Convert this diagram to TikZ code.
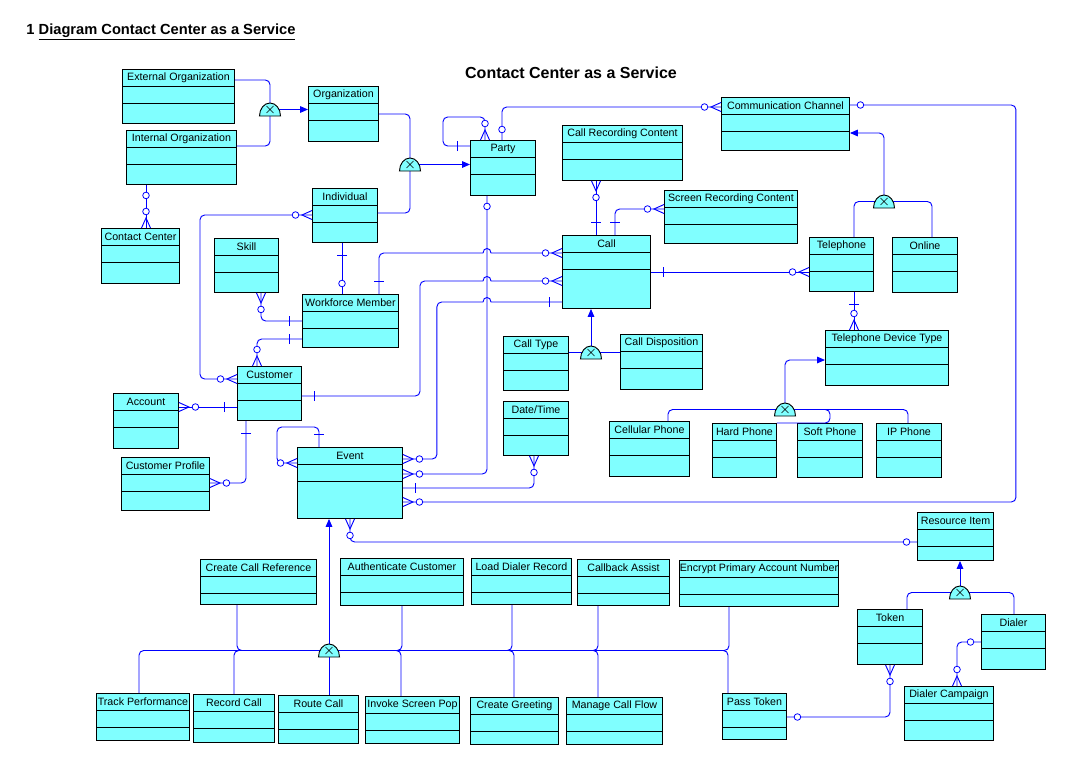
\documentclass[tikz,border=0pt]{standalone}
\usepackage{fontspec}
\setmainfont{Liberation Sans}
\usetikzlibrary{calc,arrows.meta}
\definecolor{boxcyan}{RGB}{128,255,255}
\definecolor{linkblue}{RGB}{0,0,255}
\tikzstyle{ent} = [rectangle, draw, fill=boxcyan, anchor=north west, inner sep=0pt]
\tikzstyle{enttxt} = [font=\fontsize{8}{9}\selectfont, inner sep=0pt]
\tikzstyle{gatebox} = [inner sep=0pt, outer sep=0pt, minimum width=15.75pt, minimum height=9.75pt]
\tikzstyle{link} = [draw=linkblue, rounded corners=3.5pt]
\tikzstyle{isa} = [link, -{Triangle[length=6pt,width=5pt]}]
% entity box: name, left, top, width, height, label
\newcommand{\ent}[6]{%
  \node[ent, minimum width=#4*0.75pt, minimum height=#5*0.75pt] (#1) at (#2,#3) {};
  \node[enttxt] (#1-txt) at ($(#1.north)+(0,8.7)$) {#6};
  \draw (#2,#3+17) -- ++(#4,0) (#2,#3+34) -- ++(#4,0);}
% exclusive subtype symbol
\newcommand{\dome}[1]{%
  \draw[fill=boxcyan] (#1.south west) .. controls +(0,-7) and +(-6,0) .. (#1.north)
    .. controls +(6,0) and +(0,-7) .. (#1.south east) -- cycle;
  \draw[line width=0.5pt] ($(#1.center)+(-3.5,-3.5)$) -- ++(7,7) ++(-7,0) -- ++(7,-7);}
% relationship ends: point on box, outward angle
\newcommand{\crowend}[2]{%
  \begin{scope}[shift={(#1)},rotate=#2]
    \draw[linkblue] (0,-4.5) -- (10,0) -- (0,4.5);
    \draw[linkblue,fill=white,line width=0.6pt] (16.5,0) circle[radius=3.3];
  \end{scope}}
\newcommand{\tickend}[2]{%
  \begin{scope}[shift={(#1)},rotate=#2]
    \draw[linkblue] (13,-5) -- (13,5);
  \end{scope}}
\newcommand{\ringend}[2]{%
  \begin{scope}[shift={(#1)},rotate=#2]
    \draw[linkblue,fill=white,line width=0.6pt] (10.5,0) circle[radius=3.3];
  \end{scope}}

\begin{document}
\begin{tikzpicture}[x=0.75pt,y=-0.75pt,line width=0.7pt]
  \useasboundingbox (0,0) rectangle (1087,771);

  \node[anchor=west, inner sep=0pt, font=\fontsize{11}{13}\selectfont\bfseries] (heading) at (26,32)
    {1 \underline{Diagram Contact Center as a Service}};
  \node[font=\fontsize{12}{14}\selectfont\bfseries] (title) at (571,73) {Contact Center as a Service};

  \ent{extorg}{122}{69}{112}{54}{External Organization}
  \ent{intorg}{126}{130}{110}{54}{Internal Organization}
  \ent{org}{308}{86}{70}{55}{Organization}
  \ent{cc}{101}{228}{78}{55}{Contact Center}
  \ent{indiv}{312}{188}{65}{54}{Individual}
  \ent{skill}{214}{238}{64}{54}{Skill}
  \ent{party}{470}{140}{65}{55}{Party}
  \ent{crc}{562}{125}{120}{55}{Call Recording Content}
  \ent{src}{664}{190}{133}{53}{Screen Recording Content}
  \ent{comm}{721}{97}{128}{53}{Communication Channel}
  \ent{call}{562}{235}{88}{73}{Call}
  \ent{tel}{809}{237}{64}{54}{Telephone}
  \ent{online}{892}{237}{65}{55}{Online}
  \ent{wfm}{302}{294}{96}{53}{Workforce Member}
  \ent{cust}{237}{366}{64}{54}{Customer}
  \ent{acct}{113}{393}{65}{55}{Account}
  \ent{cprof}{121}{457}{88}{53}{Customer Profile}
  \ent{event}{297}{447}{105}{71}{Event}
  \ent{ctype}{503}{336}{65}{54}{Call Type}
  \ent{cdisp}{620}{334}{82}{55}{Call Disposition}
  \ent{dt}{503}{401}{65}{54}{Date/Time}
  \ent{tdt}{825}{330}{123}{55}{Telephone Device Type}
  \ent{cell}{609}{421}{80}{55}{Cellular Phone}
  \ent{hard}{712}{423}{64}{54}{Hard Phone}
  \ent{soft}{797}{423}{65}{54}{Soft Phone}
  \ent{ip}{876}{423}{65}{54}{IP Phone}
  \ent{resitem}{917}{512}{76}{48}{Resource Item}
  \ent{ccref}{200}{559}{116}{45}{Create Call Reference}
  \ent{authc}{340}{558}{123}{47}{Authenticate Customer}
  \ent{ldr}{471}{558}{100}{46}{Load Dialer Record}
  \ent{cba}{577}{559}{92}{46}{Callback Assist}
  \ent{epan}{679}{560}{159}{46}{Encrypt Primary Account Number}
  \ent{token}{857}{609}{65}{55}{Token}
  \ent{dialer}{981}{614}{64}{55}{Dialer}
  \ent{dcamp}{904}{686}{89}{54}{Dialer Campaign}
  \ent{trackp}{96}{693}{93}{47}{Track Performance}
  \ent{reccall}{193}{694}{81}{48}{Record Call}
  \ent{route}{278}{695}{80}{48}{Route Call}
  \ent{isp}{365}{696}{94}{47}{Invoke Screen Pop}
  \ent{cgreet}{470}{697}{88}{47}{Create Greeting}
  \ent{mcf}{566}{697}{96}{47}{Manage Call Flow}
  \ent{ptoken}{722}{693}{64}{46}{Pass Token}

  \node[gatebox] (g1) at (270,109.5) {};
  \node[gatebox] (g2) at (410,164.5) {};
  \node[gatebox] (g3) at (884,201.5) {};
  \node[gatebox] (g4) at (591,352.5) {};
  \node[gatebox] (g5) at (785,409.5) {};
  \node[gatebox] (g6) at (329,650.5) {};
  \node[gatebox] (g7) at (960,592.5) {};

  % subtypes
  \draw[link] ($(extorg.north east)+(0,11)$) -| (g1.center);
  \draw[link] ($(intorg.north east)+(0,16)$) -| (g1.center);
  \draw[isa] (g1.center) -- (g1.center -| org.west);
  \draw[link] ($(org.north east)+(0,28)$) -| (g2.center);
  \draw[link] ($(indiv.north east)+(0,25)$) -| (g2.center);
  \draw[isa] (g2.center) -- (g2.center -| party.west);
  \draw[link] ($(tel.north west)+(45,0)$) |- (g3.center);
  \draw[link] ($(online.north west)+(40,0)$) |- (g3.center);
  \draw[isa] (g3.center) |- ($(comm.north east)+(0,36)$);
  \draw[link] (ctype.east |- g4.center) -- (g4.center);
  \draw[link] (g4.center) -- (g4.center -| cdisp.west);
  \draw[isa] (g4.center) -- (g4.center |- call.south);
  \draw[link] ($(cell.north west)+(59,0)$) |- (g5.center);
  \draw[link] ($(ip.north west)+(32,0)$) |- (g5.center);
  \draw[link] (hard.north east) -- ($(soft.north west)+(33,0)$) |- (g5.center);
  \draw[isa] (g5.center) |- ($(tdt.north west)+(0,30)$);
  \draw[link] ($(ccref.south west)+(37,0)$) |- (g6.center);
  \draw[link] ($(trackp.north west)+(43,0)$) |- (g6.center);
  \draw[link] ($(reccall.north west)+(41,0)$) |- (g6.center);
  \draw[link] (g6.center) -- (g6.center |- route.north);
  \draw[link] (authc.south) |- (g6.center);
  \draw[link] ($(isp.north west)+(36,0)$) |- (g6.center);
  \draw[link] ($(ldr.south west)+(41,0)$) |- (g6.center);
  \draw[link] ($(cgreet.north west)+(44,0)$) |- (g6.center);
  \draw[link] ($(cba.south west)+(21,0)$) |- (g6.center);
  \draw[link] ($(mcf.north west)+(32,0)$) |- (g6.center);
  \draw[link] ($(epan.south west)+(50,0)$) |- (g6.center);
  \draw[link] ($(ptoken.north west)+(6,0)$) |- (g6.center);
  \draw[isa] (g6.center) -- (g6.center |- event.south);
  \draw[link] ($(token.north west)+(50,0)$) |- (g7.center);
  \draw[link] ($(dialer.north west)+(33,0)$) |- (g7.center);
  \draw[isa] (g7.center) -- (g7.center |- resitem.south);

  % relationship ends
  \coordinate (intorg-cc) at ($(intorg.south west)+(20,0)$);
  \coordinate (cc-intorg) at (intorg-cc |- cc.north);
  \coordinate (indiv-cust) at ($(indiv.north west)+(0,27)$);
  \coordinate (cust-indiv) at ($(cust.north west)+(0,13)$);
  \coordinate (indiv-wfm) at ($(indiv.south west)+(30,0)$);
  \coordinate (wfm-indiv) at (indiv-wfm |- wfm.north);
  \coordinate (skill-wfm) at ($(skill.south west)+(47,0)$);
  \coordinate (wfm-skill) at ($(wfm.north west)+(0,27)$);
  \coordinate (cust-wfm) at ($(cust.north west)+(20,0)$);
  \coordinate (wfm-cust) at ($(wfm.north west)+(0,45)$);
  \coordinate (acct-cust) at ($(acct.north east)+(0,14)$);
  \coordinate (cust-acct) at (acct-cust -| cust.west);
  \coordinate (cust-cprof) at ($(cust.south west)+(9,0)$);
  \coordinate (cprof-cust) at ($(cprof.north east)+(0,26)$);
  \coordinate (cust-call) at ($(cust.north east)+(0,30)$);
  \coordinate (call-cust) at ($(call.north west)+(0,46)$);
  \coordinate (wfm-call) at ($(wfm.north west)+(77,0)$);
  \coordinate (call-wfm) at ($(call.north west)+(0,18)$);
  \coordinate (call-event) at ($(call.north west)+(0,67)$);
  \coordinate (event-call) at ($(event.north east)+(0,12)$);
  \coordinate (party-event) at ($(party.south west)+(17,0)$);
  \coordinate (event-party) at ($(event.north east)+(0,27)$);
  \coordinate (event-dt) at ($(event.north east)+(0,41)$);
  \coordinate (dt-event) at ($(dt.south west)+(31,0)$);
  \coordinate (event-comm) at ($(event.north east)+(0,55)$);
  \coordinate (comm-event) at ($(comm.north east)+(0,8)$);
  \coordinate (event-top) at ($(event.north west)+(22,0)$);
  \coordinate (event-left) at ($(event.north west)+(0,16)$);
  \coordinate (event-res) at ($(event.south west)+(53,0)$);
  \coordinate (res-event) at ($(resitem.north west)+(0,30)$);
  \coordinate (party-comm) at ($(party.north west)+(32,0)$);
  \coordinate (comm-party) at ($(comm.north west)+(0,10)$);
  \coordinate (party-left) at ($(party.north west)+(0,6)$);
  \coordinate (party-top) at ($(party.north west)+(15,0)$);
  \coordinate (crc-call) at ($(crc.south west)+(34,0)$);
  \coordinate (call-crc) at (crc-call |- call.north);
  \coordinate (call-src) at ($(call.north west)+(53,0)$);
  \coordinate (src-call) at ($(src.north west)+(0,19)$);
  \coordinate (call-tel) at ($(call.north east)+(0,37)$);
  \coordinate (tel-call) at (call-tel -| tel.west);
  \coordinate (tel-tdt) at ($(tel.south west)+(45,0)$);
  \coordinate (tdt-tel) at (tel-tdt |- tdt.north);
  \coordinate (ptoken-token) at ($(ptoken.north east)+(0,24)$);
  \coordinate (token-ptoken) at ($(token.south west)+(33,0)$);
  \coordinate (dialer-dcamp) at ($(dialer.north west)+(0,28)$);
  \coordinate (dcamp-dialer) at ($(dcamp.north west)+(53,0)$);

  % relationships
  \draw[link] (intorg-cc) -- (cc-intorg);
  \draw[link] (indiv-cust) -| ($(cust-indiv)+(-37,0)$) -- (cust-indiv);
  \draw[link] (indiv-wfm) -- (wfm-indiv);
  \draw[link] (skill-wfm) |- (wfm-skill);
  \draw[link] (cust-wfm) |- (wfm-cust);
  \draw[link] (acct-cust) -- (cust-acct);
  \draw[link] (cust-cprof) |- (cprof-cust);
  \draw[link] (cust-call) -| ($(call-cust)+(-142,0)$) -- ($(call-cust)+(-79,0)$);
  \draw[linkblue] ($(call-cust)+(-79,0)$) .. controls +(0,-6) and +(0,-6) .. ($(call-cust)+(-71,0)$) -- (call-cust);
  \draw[link] (wfm-call) |- ($(call-wfm)+(-79,0)$);
  \draw[linkblue] ($(call-wfm)+(-79,0)$) .. controls +(0,-6) and +(0,-6) .. ($(call-wfm)+(-71,0)$) -- (call-wfm);
  \draw[linkblue] (call-event) -- ($(call-event)+(-71,0)$) .. controls +(0,-6) and +(0,-6) .. ($(call-event)+(-79,0)$);
  \draw[link] ($(call-event)+(-79,0)$) -| ($(event-call)+(34,0)$) -- (event-call);
  \draw[link] (party-event) |- (event-party);
  \draw[link] (event-dt) -| (dt-event);
  \draw[link] (event-comm) -| ($(comm-event)+(166,0)$) -- (comm-event);
  \draw[link] (event-top) -- ++(0,-20) -| ($(event-left)+(-20,0)$) -- (event-left);
  \draw[link] (event-res) |- (res-event);
  \draw[link] (party-comm) |- (comm-party);
  \draw[link] (party-left) -- ++(-27,0) |- ($(party-top)+(0,-23)$) -- (party-top);
  \draw[link] (crc-call) -- (call-crc);
  \draw[link] (call-src) |- (src-call);
  \draw[link] (call-tel) -- (tel-call);
  \draw[link] (tel-tdt) -- (tdt-tel);
  \draw[link] (ptoken-token) -| (token-ptoken);
  \draw[link] (dialer-dcamp) -| (dcamp-dialer);

  \dome{g1} \dome{g2} \dome{g3} \dome{g4} \dome{g5} \dome{g6} \dome{g7}

  \ringend{intorg-cc}{270} \crowend{cc-intorg}{90}
  \crowend{indiv-cust}{180} \crowend{cust-indiv}{180}
  \tickend{indiv-wfm}{270} \ringend{wfm-indiv}{90}
  \crowend{skill-wfm}{270} \tickend{wfm-skill}{180}
  \crowend{cust-wfm}{90} \tickend{wfm-cust}{180}
  \crowend{acct-cust}{0} \tickend{cust-acct}{180}
  \tickend{cust-cprof}{270} \crowend{cprof-cust}{0}
  \tickend{cust-call}{0} \crowend{call-cust}{180}
  \tickend{wfm-call}{90} \crowend{call-wfm}{180}
  \tickend{call-event}{180} \crowend{event-call}{0}
  \ringend{party-event}{270} \crowend{event-party}{0}
  \tickend{event-dt}{0} \crowend{dt-event}{270}
  \crowend{event-comm}{0} \ringend{comm-event}{0}
  \tickend{event-top}{90} \crowend{event-left}{180}
  \crowend{event-res}{270} \ringend{res-event}{180}
  \ringend{party-comm}{90} \crowend{comm-party}{180}
  \tickend{party-left}{180} \crowend{party-top}{90}
  \crowend{crc-call}{270} \tickend{call-crc}{90}
  \tickend{call-src}{90} \crowend{src-call}{180}
  \tickend{call-tel}{0} \crowend{tel-call}{180}
  \tickend{tel-tdt}{270} \crowend{tdt-tel}{90}
  \ringend{ptoken-token}{0} \crowend{token-ptoken}{270}
  \ringend{dialer-dcamp}{180} \crowend{dcamp-dialer}{90}
\end{tikzpicture}
\end{document}
